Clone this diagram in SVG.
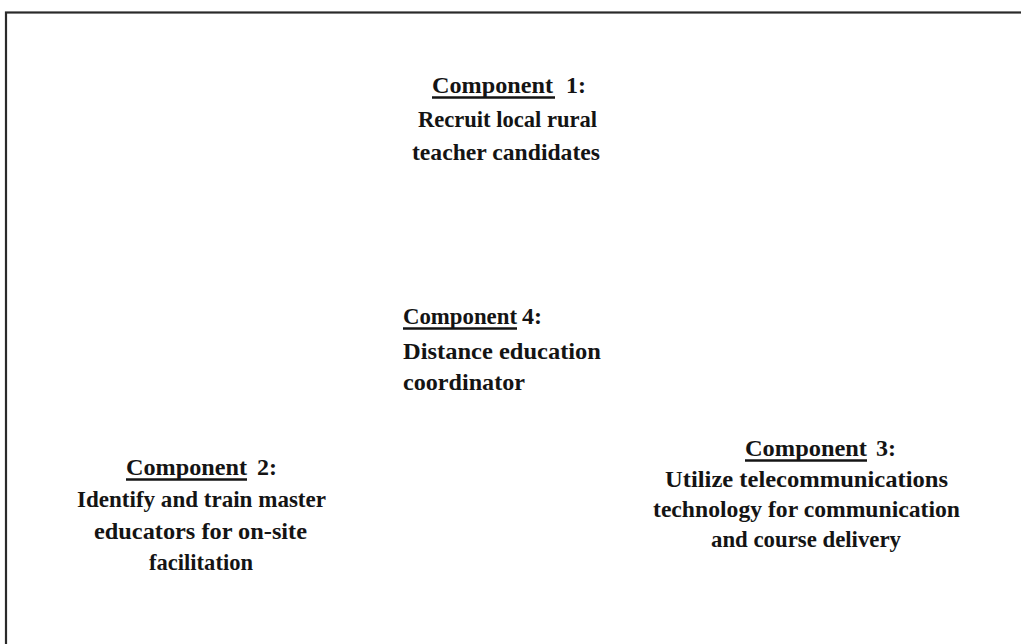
<svg xmlns="http://www.w3.org/2000/svg" width="1021" height="644" viewBox="0 0 1021 644">
<style>
  .t { font-family: "Liberation Serif", "Times New Roman", serif; font-size: 24px; font-weight: bold; fill: #141414; }
  .ul { stroke: #141414; stroke-width: 2.4; }
  .frame { fill: none; stroke: #2a2a2a; stroke-width: 2.2; }
</style>
<rect x="0" y="0" width="1021" height="644" fill="#ffffff"/>
<rect class="frame" x="6" y="12.5" width="1030" height="650"/>
<g id="connectors"></g>
<g id="component1">
  <text class="t" x="432" y="93" textLength="121" lengthAdjust="spacingAndGlyphs">Component</text>
  <text class="t" x="566" y="93">1:</text>
  <line class="ul" x1="432" y1="97.5" x2="555" y2="97.5"/>
  <text class="t" x="418" y="127" textLength="179" lengthAdjust="spacingAndGlyphs">Recruit local rural</text>
  <text class="t" x="412" y="160" textLength="188" lengthAdjust="spacingAndGlyphs">teacher candidates</text>
</g>
<g id="component4">
  <text class="t" x="403" y="324" textLength="114" lengthAdjust="spacingAndGlyphs">Component</text>
  <text class="t" x="522" y="324">4:</text>
  <line class="ul" x1="403" y1="328.5" x2="517" y2="328.5"/>
  <text class="t" x="403" y="359" textLength="198" lengthAdjust="spacingAndGlyphs">Distance education</text>
  <text class="t" x="403" y="390" textLength="122" lengthAdjust="spacingAndGlyphs">coordinator</text>
</g>
<g id="component2">
  <text class="t" x="126" y="475" textLength="121" lengthAdjust="spacingAndGlyphs">Component</text>
  <text class="t" x="257" y="475">2:</text>
  <line class="ul" x1="126" y1="479.5" x2="247" y2="479.5"/>
  <text class="t" x="77" y="507" textLength="249" lengthAdjust="spacingAndGlyphs">Identify and train master</text>
  <text class="t" x="94" y="539" textLength="213" lengthAdjust="spacingAndGlyphs">educators for on-site</text>
  <text class="t" x="149" y="570" textLength="104" lengthAdjust="spacingAndGlyphs">facilitation</text>
</g>
<g id="component3">
  <text class="t" x="745" y="456" textLength="122" lengthAdjust="spacingAndGlyphs">Component</text>
  <text class="t" x="876" y="456">3:</text>
  <line class="ul" x1="745" y1="460.5" x2="867" y2="460.5"/>
  <text class="t" x="665" y="487" textLength="283" lengthAdjust="spacingAndGlyphs">Utilize telecommunications</text>
  <text class="t" x="653" y="517" textLength="307" lengthAdjust="spacingAndGlyphs">technology for communication</text>
  <text class="t" x="711" y="547" textLength="190" lengthAdjust="spacingAndGlyphs">and course delivery</text>
</g>
</svg>
